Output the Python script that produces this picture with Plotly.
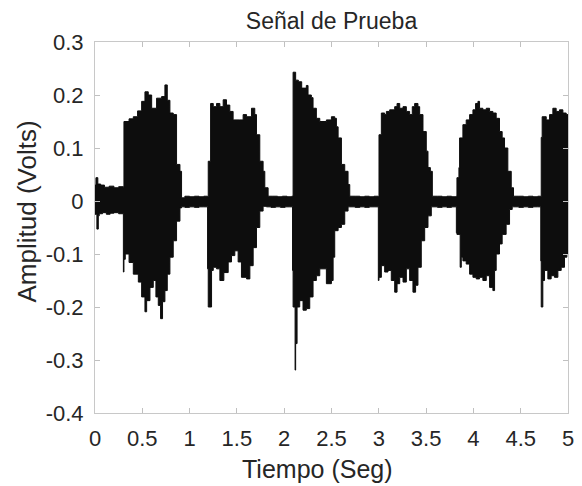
import plotly.graph_objects as go

# Upper envelope of the signal (time in s, amplitude in V)
upper_t = [0.000, 0.010, 0.030, 0.060, 0.100, 0.150, 0.200, 0.250, 0.300,
           0.306, 0.360, 0.405, 0.450, 0.493, 0.528, 0.563, 0.599, 0.651, 0.704, 0.739, 0.764, 0.792, 0.827, 0.862, 0.898, 0.915,
           0.95, 1.00, 1.05, 1.10, 1.15, 1.19,
           1.197, 1.222, 1.250, 1.285, 1.320, 1.355, 1.390, 1.425, 1.460, 1.531, 1.566, 1.602, 1.654, 1.689, 1.707, 1.742, 1.777, 1.795, 1.830,
           1.88, 1.93, 1.98, 2.03, 2.08,
           2.094, 2.121, 2.150, 2.185, 2.234, 2.252, 2.287, 2.305, 2.340, 2.376, 2.446, 2.499, 2.534, 2.552, 2.570, 2.605, 2.640, 2.675, 2.693,
           2.75, 2.80, 2.85, 2.90, 2.95, 2.995,
           3.002, 3.027, 3.062, 3.080, 3.115, 3.168, 3.193, 3.221, 3.256, 3.291, 3.326, 3.354, 3.379, 3.414, 3.432, 3.467, 3.502, 3.520, 3.545, 3.566,
           3.62, 3.67, 3.72, 3.77, 3.82,
           3.826, 3.847, 3.854, 3.889, 3.924, 3.960, 3.995, 4.023, 4.048, 4.065, 4.100, 4.136, 4.171, 4.206, 4.241, 4.276, 4.304, 4.329, 4.364, 4.400, 4.424,
           4.48, 4.53, 4.58, 4.63, 4.68, 4.712,
           4.717, 4.727, 4.770, 4.805, 4.840, 4.875, 4.910, 4.946, 4.981, 5.000]
upper_v = [0.030, 0.044, 0.032, 0.030, 0.026, 0.028, 0.025, 0.027, 0.026,
           0.150, 0.155, 0.159, 0.170, 0.188, 0.206, 0.200, 0.175, 0.194, 0.197, 0.219, 0.190, 0.166, 0.163, 0.069, 0.056, 0.006,
           0.009, 0.008, 0.009, 0.008, 0.009, 0.008,
           0.075, 0.184, 0.178, 0.184, 0.178, 0.191, 0.181, 0.169, 0.153, 0.153, 0.163, 0.159, 0.175, 0.163, 0.125, 0.075, 0.056, 0.025, 0.009,
           0.009, 0.008, 0.009, 0.008, 0.009,
           0.243, 0.228, 0.225, 0.213, 0.218, 0.200, 0.195, 0.175, 0.156, 0.150, 0.153, 0.159, 0.156, 0.140, 0.119, 0.069, 0.056, 0.031, 0.009,
           0.009, 0.008, 0.009, 0.008, 0.009, 0.008,
           0.125, 0.166, 0.163, 0.169, 0.172, 0.178, 0.184, 0.175, 0.178, 0.169, 0.163, 0.178, 0.184, 0.178, 0.163, 0.131, 0.094, 0.063, 0.056, 0.009,
           0.009, 0.008, 0.009, 0.008, 0.009,
           0.044, 0.063, 0.119, 0.144, 0.153, 0.163, 0.172, 0.184, 0.188, 0.175, 0.172, 0.175, 0.169, 0.166, 0.156, 0.131, 0.119, 0.100, 0.056, 0.025, 0.009,
           0.009, 0.008, 0.009, 0.008, 0.009, 0.008,
           0.120, 0.159, 0.153, 0.163, 0.175, 0.169, 0.172, 0.166, 0.163, 0.160]

# Lower envelope of the signal
lower_t = [0.000, 0.020, 0.035, 0.045, 0.080, 0.120, 0.160, 0.200, 0.250, 0.300,
           0.306, 0.320, 0.360, 0.405, 0.458, 0.493, 0.528, 0.546, 0.581, 0.616, 0.644, 0.669, 0.693, 0.714, 0.739, 0.764, 0.792, 0.827, 0.862, 0.898, 0.915,
           0.95, 1.00, 1.05, 1.10, 1.15, 1.19,
           1.197, 1.232, 1.250, 1.285, 1.320, 1.362, 1.408, 1.443, 1.478, 1.513, 1.548, 1.602, 1.637, 1.672, 1.707, 1.742, 1.777, 1.812,
           1.86, 1.91, 1.96, 2.01, 2.06, 2.088,
           2.094, 2.115, 2.121, 2.136, 2.164, 2.199, 2.234, 2.270, 2.305, 2.340, 2.376, 2.446, 2.499, 2.517, 2.534, 2.570, 2.605, 2.640, 2.675, 2.693,
           2.75, 2.80, 2.85, 2.90, 2.95, 2.995,
           3.002, 3.027, 3.062, 3.097, 3.132, 3.168, 3.193, 3.221, 3.256, 3.291, 3.326, 3.361, 3.389, 3.414, 3.449, 3.485, 3.520, 3.555, 3.573,
           3.62, 3.67, 3.72, 3.77, 3.82,
           3.826, 3.860, 3.872, 3.889, 3.924, 3.960, 3.995, 4.030, 4.065, 4.100, 4.136, 4.171, 4.206, 4.224, 4.241, 4.276, 4.304, 4.346, 4.382, 4.410, 4.424,
           4.48, 4.53, 4.58, 4.63, 4.68, 4.712,
           4.717, 4.734, 4.752, 4.787, 4.822, 4.857, 4.893, 4.928, 4.963, 4.988, 5.000]
lower_v = [-0.020, -0.025, -0.053, -0.028, -0.024, -0.022, -0.025, -0.023, -0.022, -0.024,
           -0.134, -0.110, -0.100, -0.116, -0.138, -0.153, -0.181, -0.209, -0.188, -0.163, -0.150, -0.181, -0.197, -0.222, -0.190, -0.169, -0.138, -0.106, -0.075, -0.038, -0.013,
           -0.011, -0.012, -0.011, -0.012, -0.011, -0.011,
           -0.128, -0.200, -0.131, -0.125, -0.128, -0.150, -0.135, -0.115, -0.103, -0.094, -0.115, -0.144, -0.147, -0.122, -0.088, -0.050, -0.019, -0.010,
           -0.011, -0.012, -0.011, -0.012, -0.011, -0.011,
           -0.131, -0.200, -0.319, -0.269, -0.200, -0.188, -0.206, -0.203, -0.181, -0.150, -0.141, -0.128, -0.156, -0.150, -0.106, -0.056, -0.050, -0.044, -0.019, -0.011,
           -0.011, -0.012, -0.011, -0.012, -0.011, -0.011,
           -0.150, -0.144, -0.122, -0.134, -0.131, -0.150, -0.172, -0.156, -0.144, -0.153, -0.128, -0.150, -0.172, -0.159, -0.125, -0.075, -0.050, -0.028, -0.011,
           -0.011, -0.012, -0.011, -0.012, -0.011,
           -0.060, -0.063, -0.125, -0.106, -0.113, -0.119, -0.138, -0.144, -0.147, -0.144, -0.150, -0.141, -0.163, -0.169, -0.131, -0.100, -0.081, -0.063, -0.044, -0.016, -0.011,
           -0.011, -0.012, -0.011, -0.012, -0.011, -0.011,
           -0.113, -0.200, -0.150, -0.131, -0.147, -0.141, -0.144, -0.131, -0.125, -0.106, -0.100]

x_tickvals = [0, 0.5, 1, 1.5, 2, 2.5, 3, 3.5, 4, 4.5, 5]
x_ticktext = ["0", "0.5", "1", "1.5", "2", "2.5", "3", "3.5", "4", "4.5", "5"]
y_tickvals = [-0.4, -0.3, -0.2, -0.1, 0, 0.1, 0.2, 0.3]
y_ticktext = ["-0.4", "-0.3", "-0.2", "-0.1", "0", "0.1", "0.2", "0.3"]

title_text = "Señal de Prueba"
xlabel_text = "Tiempo (Seg)"
ylabel_text = "Amplitud (Volts)"

poly_x = upper_t + lower_t[::-1]
poly_y = upper_v + lower_v[::-1]

fig = go.Figure()
fig.add_trace(go.Scatter(
    x=poly_x, y=poly_y, mode="lines", fill="toself",
    fillcolor="#0d0d0d", line=dict(color="#0d0d0d", width=1, shape="hv"),
    hoverinfo="skip", showlegend=False))

font_family = "Liberation Sans, Arial, sans-serif"
text_color = "#262626"
axis_common = dict(
    showline=True, linecolor="#c8c8c8", linewidth=1, mirror="ticks",
    ticks="inside", ticklen=5, tickcolor="#c0c0c0", tickwidth=1,
    showgrid=False, zeroline=False,
    tickfont=dict(family=font_family, size=22, color=text_color),
)

# page is offset by the 8px body margin; layout numbers are in figure pixels
L, R, T, B = 87, 22, 34, 81
W, H = 582, 486
pw, ph = W - L - R, H - T - B

fig.update_layout(
    width=W, height=H,
    margin=dict(l=L, r=R, t=T, b=B),
    paper_bgcolor="white", plot_bgcolor="white",
    title=dict(text=title_text, x=(L + pw / 2) / W, xanchor="center",
               y=1 - 5 / H, yanchor="top", yref="container", pad=dict(t=0, b=0),
               font=dict(family=font_family, size=23, color=text_color)),
    xaxis=dict(range=[0, 5], tickvals=x_tickvals, ticktext=x_ticktext,
               ticklabelstandoff=6, **axis_common),
    yaxis=dict(range=[-0.4, 0.3], tickvals=y_tickvals, ticktext=y_ticktext,
               ticklabelstandoff=6, **axis_common),
    annotations=[
        dict(text=xlabel_text, xref="paper", yref="paper",
             x=(309.5 - L) / pw, y=(ph + T - 461) / ph,
             xanchor="center", yanchor="middle", showarrow=False,
             font=dict(family=font_family, size=25, color=text_color)),
        dict(text=ylabel_text, xref="paper", yref="paper", textangle=-90,
             x=(18 - L) / pw, y=(ph + T - 203.5) / ph,
             xanchor="center", yanchor="middle", showarrow=False,
             font=dict(family=font_family, size=26, color=text_color)),
    ],
)

fig.write_html("out.html")
